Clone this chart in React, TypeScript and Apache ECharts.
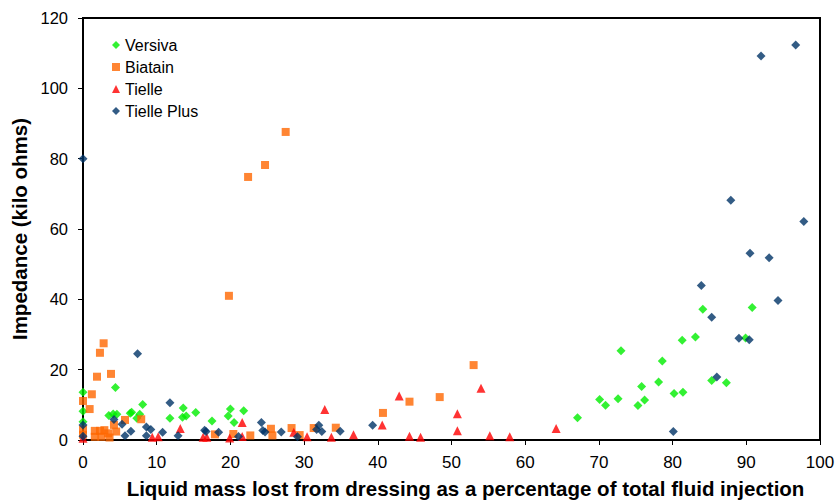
import React, { useEffect, useRef } from "react";
import * as echarts from "echarts";

const xTitle = "Liquid mass lost from dressing as a percentage of total fluid injection";
const yTitle = "Impedance (kilo ohms)";
const seriesNames = ["Versiva", "Biatain", "Tielle", "Tielle Plus"];

const versiva: number[][] = [
  [0, 13.6], [0, 8.2], [0, 5.2], [3.5, 7.0], [4.1, 7.4], [4.6, 7.3], [4.4, 14.9],
  [6.4, 7.6], [6.6, 7.9], [7.3, 6.2], [7.7, 7.3], [8.1, 10.1], [11.8, 6.2],
  [13.6, 9.1], [13.5, 6.5], [14.0, 6.8], [15.3, 7.8], [17.5, 5.4], [19.7, 6.8],
  [20.0, 8.8], [20.5, 5.0], [21.8, 8.3], [67.1, 6.3], [70.1, 11.5], [70.9, 9.9],
  [72.6, 11.7], [73.0, 25.4], [75.3, 9.8], [75.8, 15.2], [76.2, 11.4], [78.1, 16.5],
  [78.6, 22.5], [80.2, 13.2], [81.4, 13.6], [81.3, 28.4], [83.1, 29.3], [84.1, 37.2],
  [85.3, 16.9], [87.3, 16.3], [89.9, 29.0], [90.8, 37.7],
];

const biatain: number[][] = [
  [0, 11.1], [0, 3.0], [0, 1.5], [0.9, 8.8], [1.2, 13.0], [1.9, 18.0], [2.3, 24.8],
  [2.8, 27.5], [3.8, 18.8], [4.2, 4.3], [5.7, 5.7], [7.9, 5.9], [4.5, 2.4],
  [1.6, 2.6], [2.3, 2.6], [2.9, 2.8], [3.4, 1.9], [1.6, 0.9], [2.5, 0.9], [3.6, 0.7],
  [17.9, 1.6], [19.8, 41.0], [20.4, 1.7], [22.4, 74.8], [22.7, 1.3], [24.7, 78.2],
  [25.5, 3.2], [25.7, 1.3], [27.5, 87.6], [28.3, 3.4], [29.4, 1.4], [31.3, 3.4],
  [34.3, 3.5], [40.7, 7.7], [44.3, 10.9], [48.4, 12.2], [53.0, 21.3],
];

const tielle: number[][] = [
  [0, 0.5], [9.4, 0.8], [10.2, 0.9], [13.2, 3.3], [16.3, 0.8], [16.8, 0.8],
  [19.9, 0.6], [21.6, 5.0], [21.6, 1.0], [28.6, 2.2], [30.4, 0.9], [32.8, 8.7],
  [33.7, 0.8], [36.7, 1.5], [40.6, 4.3], [42.9, 12.5], [44.3, 1.1], [45.8, 0.8],
  [50.8, 7.5], [50.8, 2.6], [54.0, 14.7], [55.2, 1.2], [57.9, 0.9], [64.2, 3.3],
];

const tiellePlus: number[][] = [
  [0, 80], [0, 4.3], [0, 1.1], [4.2, 5.8], [5.3, 4.5], [5.7, 1.2], [6.5, 2.5],
  [7.4, 24.5], [8.6, 3.7], [9.2, 3.0], [8.6, 1.2], [10.8, 2.2], [11.8, 10.6],
  [12.9, 1.2], [16.5, 2.8], [16.7, 2.4], [18.4, 2.2], [21.1, 1.0], [24.2, 5.0],
  [24.4, 2.7], [24.7, 2.3], [26.9, 2.3], [29.1, 0.9], [31.7, 3.0], [32.0, 4.2],
  [32.4, 2.4], [34.9, 2.5], [39.3, 4.2], [80.1, 2.4], [83.9, 43.9], [85.3, 34.9],
  [86.0, 17.9], [87.9, 68.2], [89.0, 28.9], [90.4, 28.5], [90.5, 53.1], [92.0, 109.2],
  [93.1, 51.8], [94.3, 39.7], [96.7, 112.3], [97.8, 62.1],
];

const colors = ["#00EE00", "#FF6600", "#FF0000", "#003366"];
const symbols = ["diamond", "rect", "triangle", "diamond"];
const sizes = [9, 8, 9, 9];

const FONT = "'Liberation Sans', Arial, sans-serif";

export default function App() {
  const ref = useRef<HTMLDivElement>(null);
  useEffect(() => {
    if (!ref.current) return;
    const chart = echarts.init(ref.current, undefined, { renderer: "svg" });
    const datasets = [versiva, biatain, tielle, tiellePlus];
    chart.setOption({
      animation: false,
      textStyle: { fontFamily: FONT, color: "#000" },
      grid: {
        left: 83, top: 18, right: 16, bottom: 60,
        containLabel: false,
        outerBoundsMode: "none",
        show: true, borderColor: "#000", borderWidth: 2, backgroundColor: "transparent",
      },
      legend: {
        orient: "vertical",
        left: 107,
        top: 32,
        itemWidth: 8,
        itemHeight: 8,
        itemGap: 6,
        textStyle: { fontSize: 16, color: "#000", fontFamily: FONT },
        data: seriesNames,
      },
      xAxis: {
        type: "value",
        min: 0, max: 100, interval: 10,
        name: xTitle,
        nameLocation: "middle",
        nameGap: 38,
        nameTextStyle: {
          fontSize: 20.5, fontWeight: "bold", color: "#000", fontFamily: FONT,
          padding: [0, 0, 0, 28],
        },
        axisLine: { show: true, lineStyle: { color: "#000", width: 2 } },
        axisTick: { show: true, inside: false, length: 5, lineStyle: { color: "#000", width: 1 } },
        axisLabel: { fontSize: 17, color: "#000", margin: 14, fontFamily: FONT },
        splitLine: { show: false },
      },
      yAxis: {
        type: "value",
        min: 0, max: 120, interval: 20,
        name: yTitle,
        nameLocation: "middle",
        nameGap: 51,
        nameTextStyle: { fontSize: 20.5, fontWeight: "bold", color: "#000", fontFamily: FONT },
        axisLine: { show: true, lineStyle: { color: "#000", width: 2 } },
        axisTick: { show: true, inside: false, length: 5, lineStyle: { color: "#000", width: 1 } },
        axisLabel: { fontSize: 16.5, color: "#000", margin: 15, fontFamily: FONT },
        splitLine: { show: false },
      },
      series: seriesNames.map((name, i) => ({
        name,
        type: "scatter",
        data: datasets[i],
        symbol: symbols[i],
        symbolSize: sizes[i],
        itemStyle: { color: colors[i] },
        clip: false,
      })),
    });
    return () => chart.dispose();
  }, []);
  return <div ref={ref} style={{ width: 836, height: 500, position: "absolute", left: 0, top: 0 }} />;
}
